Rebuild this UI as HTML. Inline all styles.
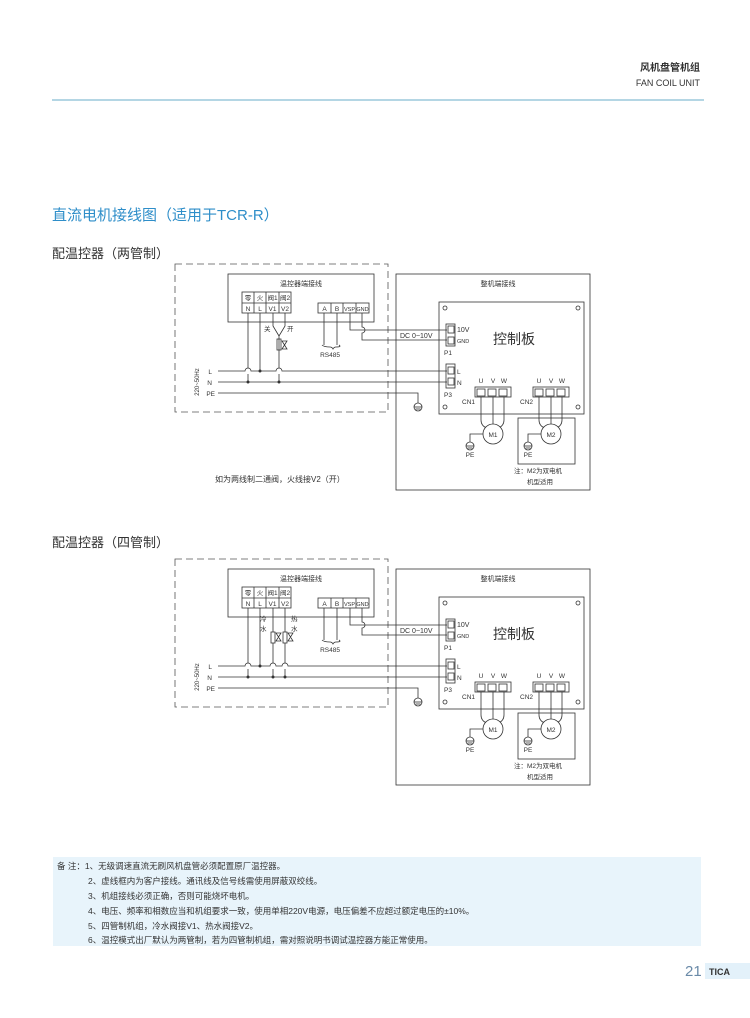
<!DOCTYPE html>
<html><head><meta charset="utf-8"><style>
body{margin:0;background:#fff}
svg{display:block}
text{font-family:"Liberation Sans","Noto Sans CJK SC",sans-serif;fill:#333}
</style></head><body>
<svg width="750" height="1018" viewBox="0 0 750 1018" xmlns="http://www.w3.org/2000/svg">
<defs>
<g id="gnd" fill="none"><line x1="0" y1="0" x2="0" y2="4" stroke="#333" stroke-width="0.8"/><circle cx="0" cy="8" r="4" fill="#fff" stroke="#333" stroke-width="0.8"/><line x1="-4" y1="8" x2="4" y2="8" stroke="#333" stroke-width="0.8"/><line x1="-2.5" y1="10" x2="2.5" y2="10" stroke="#333" stroke-width="0.8"/></g>
<g id="base" stroke="#333" stroke-width="0.8" fill="none">
<rect x="175" y="264" width="213" height="148" stroke-dasharray="7,4" stroke="#555"/>
<rect x="228" y="274" width="146" height="48"/>
<rect x="242" y="292" width="49" height="21"/>
<line x1="242" y1="303" x2="291" y2="303"/>
<line x1="254" y1="292" x2="254" y2="313"/><line x1="266" y1="292" x2="266" y2="313"/><line x1="279" y1="292" x2="279" y2="313"/>
<rect x="318" y="303" width="51" height="10"/>
<line x1="331" y1="303" x2="331" y2="313"/><line x1="343" y1="303" x2="343" y2="313"/><line x1="356" y1="303" x2="356" y2="313"/>
<path d="M324 313V345M337 313V345M322 345q2 2 8 2q2 0 3 2q1 -2 3 -2q6 0 3 -2"/>
<path d="M350 313V330H447M362 313V327a3 3 0 0 1 0 6V340H447"/>
<path d="M218 382H447"/>
<path d="M218 393H418V399"/>
<path d="M248 313V368M248 374V382M260 313V371"/>
<rect x="396" y="274" width="194" height="216"/>
<rect x="439" y="302" width="145" height="112"/>
<circle cx="445" cy="308" r="2"/><circle cx="578" cy="308" r="2"/><circle cx="445" cy="407" r="2"/><circle cx="578" cy="407" r="2"/>
<rect x="446" y="324" width="9" height="22"/><rect x="448" y="326" width="6" height="7"/><rect x="448" y="337" width="6" height="7"/>
<rect x="446" y="364" width="9" height="24"/><rect x="448" y="367" width="6" height="7"/><rect x="448" y="378" width="6" height="7"/>
<rect x="475" y="387" width="36" height="10"/><rect x="477" y="389" width="8" height="7"/><rect x="488" y="389" width="8" height="7"/><rect x="499" y="389" width="8" height="7"/>
<rect x="533" y="387" width="36" height="10"/><rect x="535" y="389" width="8" height="7"/><rect x="546" y="389" width="8" height="7"/><rect x="557" y="389" width="8" height="7"/>
<path d="M481 397V420q0 6 6 8M493 397V424M504 397V420q0 6 -6 8"/>
<circle cx="493" cy="434" r="10" fill="#fff"/>
<rect x="518" y="418" width="57" height="46"/>
<path d="M539 397V420q0 6 6 8M551 397V424M562 397V420q0 6 -6 8"/>
<circle cx="551" cy="434" r="10" fill="#fff"/>
<path d="M483 434H470V438M541 434H528V438"/>
</g>
<g id="basetext" font-size="6.5">
<text x="301" y="286" text-anchor="middle" font-size="7">温控器端接线</text>
<text x="248" y="300" text-anchor="middle">零</text><text x="260" y="300" text-anchor="middle">火</text><text x="272.5" y="300" text-anchor="middle">阀1</text><text x="285" y="300" text-anchor="middle">阀2</text>
<text x="248" y="311" text-anchor="middle">N</text><text x="260" y="311" text-anchor="middle">L</text><text x="272.5" y="311" text-anchor="middle">V1</text><text x="285" y="311" text-anchor="middle">V2</text>
<text x="324.5" y="311" text-anchor="middle">A</text><text x="337" y="311" text-anchor="middle">B</text><text x="349.5" y="311" text-anchor="middle" font-size="5.5">VSP</text><text x="362.5" y="311" text-anchor="middle" font-size="5.5">GND</text>
<text x="330" y="357" text-anchor="middle">RS485</text>
<text x="400" y="338" font-size="7">DC 0~10V</text>
<text x="212" y="374" text-anchor="end">L</text><text x="212" y="385" text-anchor="end">N</text><text x="215" y="396" text-anchor="end">PE</text>
<text transform="translate(199,382) rotate(-90)" text-anchor="middle" font-size="6">220~50Hz</text>
<text x="498" y="286" text-anchor="middle" font-size="7">整机端接线</text>
<text x="457" y="332" font-size="7">10V</text><text x="457" y="343" font-size="5.5">GND</text><text x="444" y="355">P1</text>
<text x="457" y="374">L</text><text x="457" y="385">N</text><text x="444" y="397">P3</text>
<text x="493" y="344" font-size="14">控制板</text>
<text x="481" y="383" text-anchor="middle">U</text><text x="493" y="383" text-anchor="middle">V</text><text x="504" y="383" text-anchor="middle">W</text>
<text x="539" y="383" text-anchor="middle">U</text><text x="551" y="383" text-anchor="middle">V</text><text x="562" y="383" text-anchor="middle">W</text>
<text x="462" y="404">CN1</text><text x="520" y="404">CN2</text>
<text x="493" y="437" text-anchor="middle">M1</text><text x="551" y="437" text-anchor="middle">M2</text>
<text x="470" y="457" text-anchor="middle">PE</text><text x="528" y="457" text-anchor="middle">PE</text>
<text x="514" y="473">注：M2为双电机</text><text x="527" y="484">机型适用</text>
</g>
</defs>

<text x="700" y="71" text-anchor="end" font-size="10" font-weight="bold" fill="#222">风机盘管机组</text>
<text x="700" y="86" text-anchor="end" font-size="9" fill="#555">FAN COIL UNIT</text>
<line x1="52" y1="100" x2="704" y2="100" stroke="#9cc8dc" stroke-width="1.5"/>

<text x="52" y="220" font-size="15" style="fill:#2e8ec9">直流电机接线图（适用于TCR-R）</text>
<text x="52" y="258" font-size="13">配温控器（两管制）</text>
<text x="52" y="547" font-size="13">配温控器（四管制）</text>

<!-- diagram 1 -->
<use href="#base"/><use href="#basetext"/>
<use href="#gnd" x="418" y="399"/><use href="#gnd" x="470" y="438"/><use href="#gnd" x="528" y="438"/>
<g stroke="#333" stroke-width="0.8" fill="none">
<path d="M218 371H245a3 3 0 0 1 6 0H276a3 3 0 0 1 6 0H447"/>
<path d="M273 313V326L279 336M285 313V326L279 336V368M279 374V382"/>
<rect x="277" y="339" width="4" height="11"/>
<path d="M282 341h5l-5 8h5z"/>
</g>
<circle cx="260" cy="371" r="1.5" fill="#333"/><circle cx="248" cy="382" r="1.5" fill="#333"/><circle cx="279" cy="382" r="1.5" fill="#333"/>
<text x="264" y="331" font-size="6.5">关</text><text x="287" y="331" font-size="6.5">开</text>
<text x="215" y="482" font-size="8">如为两线制二通阀，火线接V2（开）</text>

<!-- diagram 2 -->
<g transform="translate(0,295)">
<use href="#base"/><use href="#basetext"/>
<use href="#gnd" x="418" y="399"/><use href="#gnd" x="470" y="438"/><use href="#gnd" x="528" y="438"/>
<g stroke="#333" stroke-width="0.8" fill="none">
<path d="M218 371H245a3 3 0 0 1 6 0H270a3 3 0 0 1 6 0H282a3 3 0 0 1 6 0H447"/>
<path d="M273 313V337M285 313V337M273 348V368M285 348V368M273 374V382M285 374V382"/>
<rect x="271" y="337" width="4" height="11"/><rect x="283" y="337" width="4" height="11"/>
<path d="M276 338h5l-5 8h5zM288 338h5l-5 8h5z"/>
</g>
<circle cx="260" cy="371" r="1.5" fill="#333"/><circle cx="248" cy="382" r="1.5" fill="#333"/><circle cx="273" cy="382" r="1.5" fill="#333"/><circle cx="285" cy="382" r="1.5" fill="#333"/>
<text x="260" y="326" font-size="6.5">冷</text><text x="260" y="336" font-size="6.5">水</text>
<text x="291" y="326" font-size="6.5">热</text><text x="291" y="336" font-size="6.5">水</text>
</g>

<!-- notes -->
<rect x="53" y="857" width="648" height="89" fill="#e8f4fb"/>
<g font-size="8.5" fill="#444">
<text x="57" y="869">备  注：1、无级调速直流无刷风机盘管必须配置原厂温控器。</text>
<text x="88" y="884">2、虚线框内为客户接线。通讯线及信号线需使用屏蔽双绞线。</text>
<text x="88" y="899">3、机组接线必须正确，否则可能烧坏电机。</text>
<text x="88" y="914">4、电压、频率和相数应当和机组要求一致，使用单相220V电源，电压偏差不应超过额定电压的±10%。</text>
<text x="88" y="929">5、四管制机组，冷水阀接V1、热水阀接V2。</text>
<text x="88" y="943">6、温控模式出厂默认为两管制，若为四管制机组，需对照说明书调试温控器方能正常使用。</text>
</g>
<text x="685" y="976" font-size="15" style="fill:#6a8aa8">21</text>
<rect x="705" y="963" width="45" height="16" fill="#e3f1fa"/>
<text x="709" y="975" font-size="9" font-weight="bold" fill="#556">TICA</text>
</svg>
</body></html>
